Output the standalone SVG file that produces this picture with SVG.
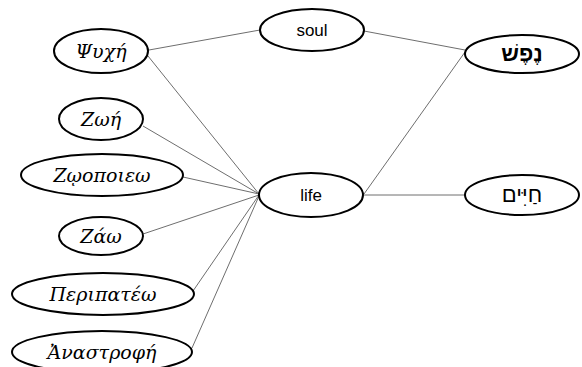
<svg xmlns="http://www.w3.org/2000/svg" width="582" height="367" viewBox="0 0 582 367">
<style>
.n{fill:#fff;stroke:#000;stroke-width:2}
.c line{stroke:#6e6e6e;stroke-width:1}
.g{font-family:"DejaVu Serif",serif;font-style:italic;font-size:19px;fill:#000;text-anchor:middle}
.e{font-family:"Liberation Sans",Arial,sans-serif;font-size:17px;fill:#000;text-anchor:middle}
.h{font-family:"Liberation Sans","DejaVu Sans",sans-serif;font-size:22px;fill:#000;text-anchor:middle}
</style>
<rect width="582" height="367" fill="#fff"/>
<g class="c" id="connectors">
<line x1="149" y1="50" x2="260" y2="30"/>
<line x1="148" y1="56" x2="259" y2="194"/>
<line x1="143" y1="126" x2="259" y2="194"/>
<line x1="183" y1="177" x2="259" y2="194"/>
<line x1="143" y1="234" x2="259" y2="195"/>
<line x1="193" y1="291" x2="259" y2="195"/>
<line x1="192" y1="348" x2="259" y2="196"/>
<line x1="364" y1="31" x2="465" y2="50"/>
<line x1="364" y1="194" x2="465" y2="52"/>
<line x1="364" y1="195" x2="465" y2="195"/>
</g>
<g id="psyche"><ellipse class="n" cx="101" cy="51" rx="47" ry="22"/><text class="g" x="101" y="58">Ψυχή</text></g>
<g id="zoe"><ellipse class="n" cx="101" cy="119" rx="42" ry="21"/><text class="g" x="101" y="126">Ζωή</text></g>
<g id="zoopoieo"><ellipse class="n" cx="102" cy="175" rx="81" ry="21"/><text class="g" x="102" y="182">Ζῳοποιεω</text></g>
<g id="zao"><ellipse class="n" cx="101" cy="236" rx="42" ry="19"/><text class="g" x="101" y="243">Ζάω</text></g>
<g id="peripateo"><ellipse class="n" cx="103" cy="294" rx="91" ry="21"/><text class="g" x="103" y="301">Περιπατέω</text></g>
<g id="anastrophe"><ellipse class="n" cx="102" cy="352" rx="90" ry="21"/><text class="g" x="102" y="359">Ἀναστροφή</text></g>
<g id="soul"><ellipse class="n" cx="312" cy="30" rx="52" ry="21"/><text class="e" x="312" y="36">soul</text></g>
<g id="life"><ellipse class="n" cx="311" cy="195" rx="52" ry="22"/><text class="e" x="311" y="201">life</text></g>
<g id="nefesh"><ellipse class="n" cx="522" cy="54" rx="57" ry="19"/><text class="h" x="522" y="61" font-weight="bold">נֶפֶשׁ</text></g>
<g id="chayim"><ellipse class="n" cx="522" cy="195" rx="57" ry="20"/><text class="h" x="522" y="202">חַיִּים</text></g>
</svg>
